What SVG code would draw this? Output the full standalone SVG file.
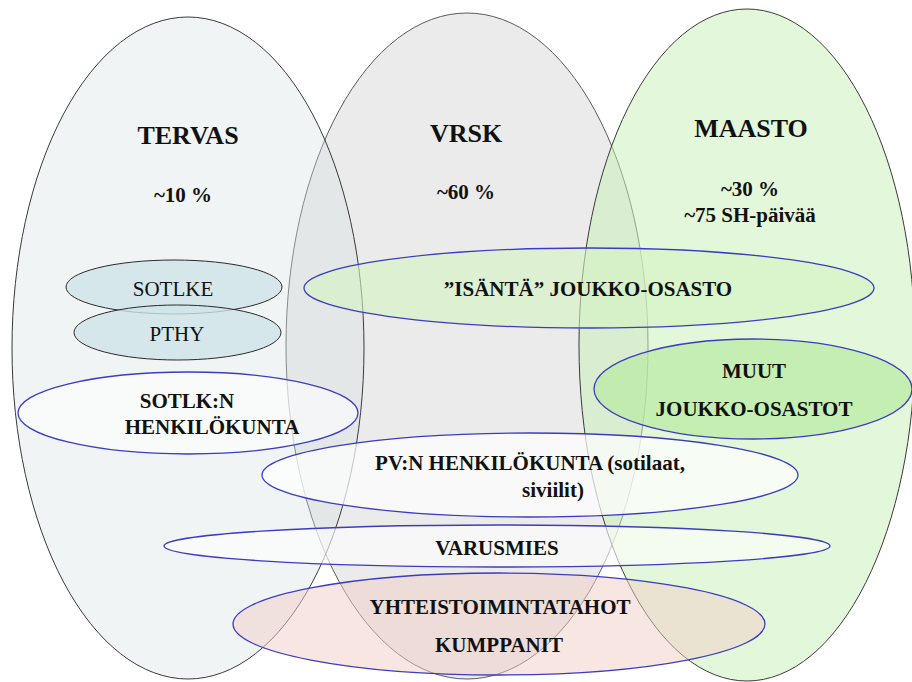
<svg xmlns="http://www.w3.org/2000/svg" width="912" height="682" viewBox="0 0 912 682">
  <style>
    text { fill: #111; text-anchor: middle; }
    .title { font-size: 26px; font-weight: bold; }
    .b { font-size: 21px; font-weight: bold; }
    .r { font-size: 21px; }
    .big { stroke: #3a3a3a; stroke-width: 1; }
    .unit { stroke: #2a2a2a; stroke-width: 1; fill: #cfe3e9; fill-opacity: 0.8; }
    .blue { stroke: #3c3cc0; stroke-width: 1.3; }
  </style>

  <rect width="912" height="682" fill="#ffffff"/>

  <g font-family="Times New Roman, Liberation Serif, Tinos, Noto Serif, DejaVu Serif, serif">
  <!-- main areas -->
  <g id="vrsk">
    <ellipse cx="467" cy="346" rx="181" ry="333" fill="#ebebeb" stroke="#5a5a5a" stroke-width="1"/>
    <text class="title" x="466" y="142">VRSK</text>
    <text class="b" x="466" y="199">~60 %</text>
  </g>
  <g id="tervas">
    <ellipse cx="188" cy="348" rx="176" ry="331" fill="#d7e1e4" fill-opacity="0.36" class="big"/>
    <text class="title" x="188" y="144">TERVAS</text>
    <text class="b" x="183" y="202">~10 %</text>
  </g>
  <g id="maasto">
    <ellipse cx="747" cy="345" rx="168" ry="336" fill="#c8f2b6" fill-opacity="0.5" class="big"/>
    <text class="title" x="751" y="137">MAASTO</text>
    <text class="b" x="750" y="196">~30 %</text>
    <text class="b" x="750" y="222">~75 SH-päivää</text>
  </g>

  <!-- groups of people -->
  <g id="sotlke">
    <ellipse cx="174" cy="287" rx="108" ry="27" class="unit"/>
    <text class="r" x="173" y="296">SOTLKE</text>
  </g>
  <g id="pthy">
    <ellipse cx="177.5" cy="332.5" rx="103.5" ry="27.5" class="unit"/>
    <text class="r" x="177" y="341">PTHY</text>
  </g>
  <g id="sotlkn-henkilokunta">
    <ellipse cx="188" cy="413" rx="170" ry="41" class="blue" fill="#ffffff" fill-opacity="0.6"/>
    <text class="b" x="187" y="408">SOTLK:N</text>
    <text class="b" x="212" y="434">HENKILÖKUNTA</text>
  </g>
  <g id="isanta">
    <ellipse cx="589" cy="288" rx="285" ry="40" class="blue" fill="#d4f3c2" fill-opacity="0.6"/>
    <text class="b" x="588" y="296">”ISÄNTÄ” JOUKKO-OSASTO</text>
  </g>
  <g id="muut">
    <ellipse cx="753" cy="389" rx="159" ry="50" class="blue" fill="#b8e9a2" fill-opacity="0.7"/>
    <text class="b" x="754" y="378">MUUT</text>
    <text class="b" x="754" y="416">JOUKKO-OSASTOT</text>
  </g>
  <g id="pv-henkilokunta">
    <ellipse cx="530" cy="475" rx="268" ry="42" class="blue" fill="#ffffff" fill-opacity="0.7"/>
    <text class="b" x="530" y="470">PV:N HENKILÖKUNTA (sotilaat,</text>
    <text class="b" x="553" y="497">siviilit)</text>
  </g>
  <g id="varusmies">
    <ellipse cx="497" cy="546" rx="333" ry="21" class="blue" fill="#ffffff" fill-opacity="0.6"/>
    <text class="b" x="497" y="555">VARUSMIES</text>
  </g>
  <g id="yhteistoiminta">
    <ellipse cx="499" cy="624" rx="266" ry="51" class="blue" fill="#f2cdc8" fill-opacity="0.5"/>
    <text class="b" x="500" y="614">YHTEISTOIMINTATAHOT</text>
    <text class="b" x="499" y="652">KUMPPANIT</text>
  </g>
  </g>

  <g id="connectors"/>
</svg>
